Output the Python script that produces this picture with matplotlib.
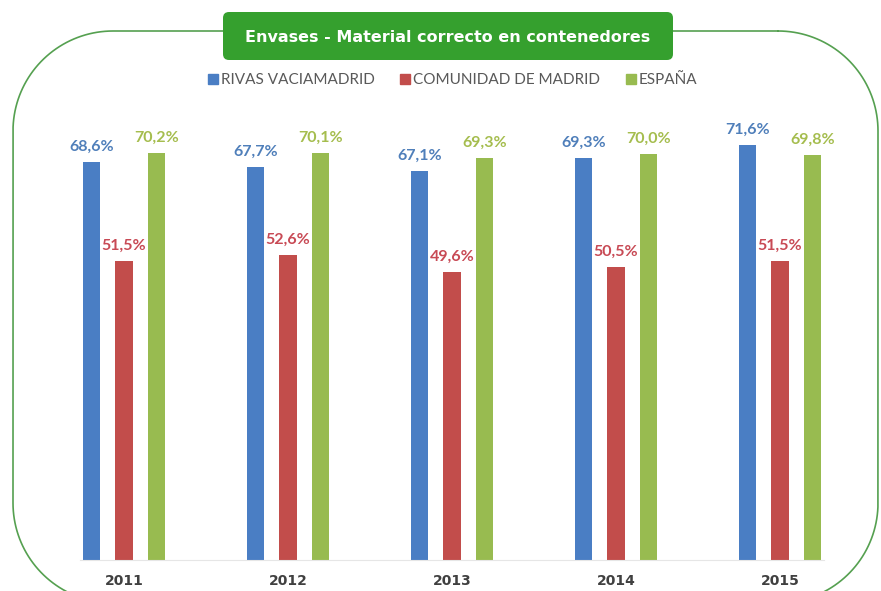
import matplotlib.pyplot as plt
from matplotlib.patches import FancyBboxPatch
from matplotlib.lines import Line2D
import numpy as np

# data
years = ["2011", "2012", "2013", "2014", "2015"]
series = ["RIVAS VACIAMADRID", "COMUNIDAD DE MADRID", "ESPAÑA"]
rivas = [68.6, 67.7, 67.1, 69.3, 71.6]
comunidad = [51.5, 52.6, 49.6, 50.5, 51.5]
espana = [70.2, 70.1, 69.3, 70.0, 69.8]

bar_colors = ["#4A7EC4", "#C24D4B", "#98BB50"]
label_colors = ["#4F7FBA", "#C84A55", "#A5BD4E"]

W, H = 881, 591
fig = plt.figure(figsize=(W / 100, H / 100), dpi=100)

# decoration layer in pixel coordinates (y down)
deco = fig.add_axes([0, 0, 1, 1])
deco.set_xlim(0, W)
deco.set_ylim(H, 0)
deco.axis("off")


def rounded_rect(x0, y0, x1, y1, r, n=40):
    # outline of a rounded rectangle, corner by corner
    pts = []
    corners = [(x1 - r, y0 + r, -90, 0), (x1 - r, y1 - r, 0, 90),
               (x0 + r, y1 - r, 90, 180), (x0 + r, y0 + r, 180, 270)]
    for cx, cy, a0, a1 in corners:
        a = np.radians(np.linspace(a0, a1, n))
        pts.append(np.column_stack([cx + r * np.cos(a), cy + r * np.sin(a)]))
    pts = np.vstack(pts + [pts[0][:1]])
    return pts[:, 0], pts[:, 1]


fx, fy = rounded_rect(13, 31, 878, 603, 100)
deco.plot(fx, fy, color="#55A050", lw=1.2, zorder=1)

title_box = FancyBboxPatch((223, 12), 450, 48, boxstyle="round,pad=0,rounding_size=6",
                           fc="#35A02E", ec="none", zorder=3)
deco.add_patch(title_box)
deco.text(448, 37, "Envases - Material correcto en contenedores", color="white", zorder=4,
          fontsize=11.5, fontweight="bold", family="DejaVu Sans", ha="center", va="center")

# chart
ax = fig.add_axes([42 / W, (H - 560) / H, 820 / W, 460 / H])
ax.patch.set_alpha(0)
x = np.arange(len(years))
bw = 0.105
off = 0.2
for i, vals in enumerate([rivas, comunidad, espana]):
    pos = x + (i - 1) * off
    ax.bar(pos, vals, width=bw, color=bar_colors[i], label=series[i])
    for p, v in zip(pos, vals):
        ax.text(p, v + 1.4, f"{v:.1f}%".replace(".", ","), ha="center", va="bottom",
                color=label_colors[i], fontsize=11.5, fontweight="bold", family="Lato")

ax.set_xlim(-0.5, len(years) - 0.5)
ax.set_ylim(0, 79.3)
ax.set_xticks(x)
ax.set_xticklabels(years, fontsize=10, fontweight="bold", color="#404040")
ax.tick_params(axis="x", length=0, pad=10)
ax.set_yticks([])
for s in ["top", "left", "right"]:
    ax.spines[s].set_visible(False)
ax.spines["bottom"].set_color("#E6E6E6")
ax.spines["bottom"].set_bounds(-0.27, len(years) - 0.73)

handles = [Line2D([], [], marker="s", ls="none", color=c, markersize=7) for c in bar_colors]
leg = fig.legend(handles, series, loc="center", bbox_to_anchor=(452 / W, 1 - 80 / H),
                 ncol=3, frameon=False, handletextpad=0.1, columnspacing=1.6,
                 handlelength=0.8, prop={"family": "Lato", "size": 11})
for t in leg.get_texts():
    t.set_color("#595959")

fig.savefig("out.png", dpi=100)
